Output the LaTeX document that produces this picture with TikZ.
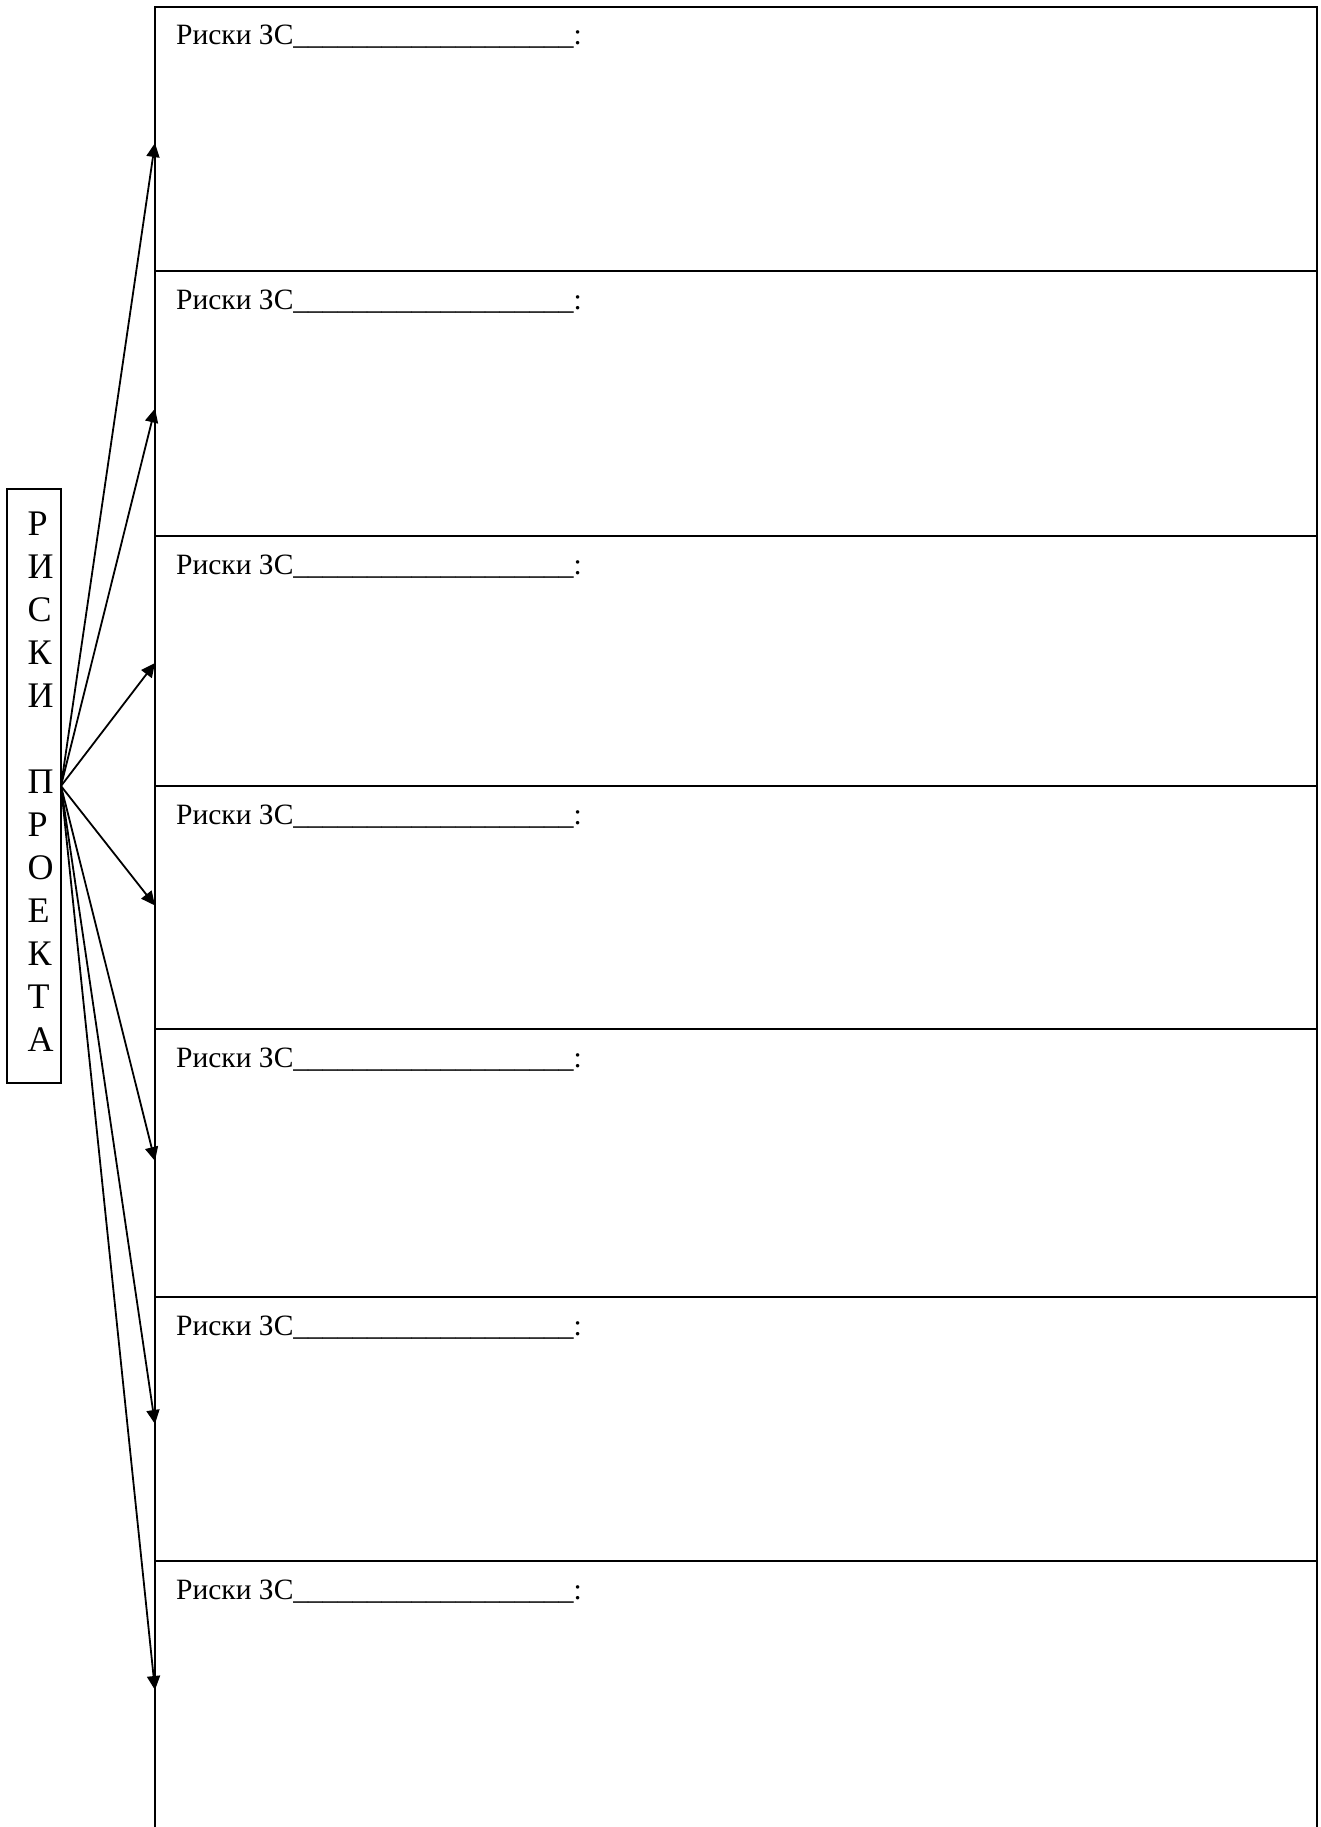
\documentclass[tikz,border=0pt]{standalone}
\usepackage{fontspec}
\setmainfont{Liberation Serif}
\usetikzlibrary{arrows.meta}
\newcommand\myblanks{\_\_\_\_\_\_\_\_\_\_\_\_\_\_\_\_\_\_\_}
\tikzset{
  panel/.style={draw=black, line width=2.2pt, outer sep=0pt, inner sep=0pt,
    minimum width=1162pt},
  ptext/.style={anchor=base west, inner sep=0pt, font=\fontsize{29.5}{34}\selectfont},
  letter/.style={anchor=base west, inner sep=0pt, font=\fontsize{36}{43}\selectfont},
  sidebox/.style={draw=black, line width=1.6pt, outer sep=0pt, inner sep=0pt,
    minimum width=54pt, minimum height=594pt},
  conn/.style={line width=1.8pt, -{Triangle[length=14pt,width=13pt]}}
}
\begin{document}
\begin{tikzpicture}[x=1pt,y=-1pt]
\useasboundingbox[fill=white] (0,0) rectangle (1321,1827);
% side box
\node[sidebox] (box) at (34,786) {};
\foreach \L [count=\i from 0] in {Р,И,С,К,И,{},П,Р,О,Е,К,Т,А}{
  \node[letter] (l\i) at (27.5,{535+43*\i}) {\L};
}
% panels
\node[panel, minimum height=264pt] (p1) at (736,139) {};
\node[panel, minimum height=265pt] (p2) at (736,403.5) {};
\node[panel, minimum height=250pt] (p3) at (736,661) {};
\node[panel, minimum height=243pt] (p4) at (736,907.5) {};
\node[panel, minimum height=268pt] (p5) at (736,1163) {};
\node[panel, minimum height=264pt] (p6) at (736,1429) {};
\node[panel, draw=none, minimum height=266pt] (p7) at (736,1694) {};
\draw[line width=2.2pt] (p7.south west) -- (p7.north west) -- (p7.north east) -- (p7.south east);
% texts
\foreach \p in {1,...,7}{
  \node[ptext] (t\p) at ([xshift=21pt,yshift=-38pt]p\p.north west) {Риски ЗС\myblanks:};
}
% connectors
\foreach \p/\dy in {1/4,2/5,3/2,4/-2,5/-2,6/-5,7/-4}{
  \draw[conn] (box.east) -- ([yshift=-\dy pt]p\p.west);
}
\end{tikzpicture}
\end{document}
